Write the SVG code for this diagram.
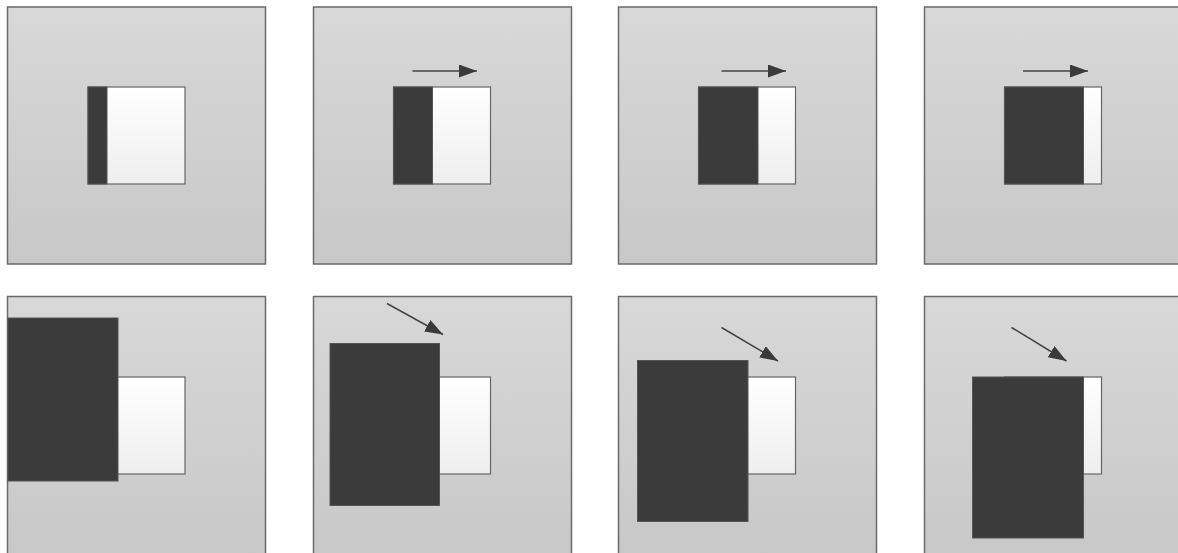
<svg xmlns="http://www.w3.org/2000/svg" width="1178" height="553" viewBox="0 0 1178 553">
<defs>
<linearGradient id="bg" x1="0" y1="0" x2="0" y2="1"><stop offset="0" stop-color="#d8d8d8"/><stop offset="1" stop-color="#c8c8c8"/></linearGradient>
<linearGradient id="wh" x1="0" y1="0" x2="0" y2="1"><stop offset="0" stop-color="#ffffff"/><stop offset="1" stop-color="#eeeeee"/></linearGradient>
<marker id="ah" markerUnits="userSpaceOnUse" markerWidth="20" markerHeight="14" refX="18" refY="6.5" orient="auto"><path d="M0,0 L18,6.5 L0,13 Z" fill="#3a3a3a"/></marker>
<style>
.panel{fill:url(#bg);stroke:#6a6a6a;stroke-width:1.5}
.white{fill:url(#wh);stroke:#666;stroke-width:1.2}
.dark{fill:#3b3b3b;stroke:#555;stroke-width:1}
.arrow{stroke:#444;stroke-width:1.5;fill:none;marker-end:url(#ah)}
</style>
</defs>
<rect width="1178" height="553" fill="#ffffff"/>
<g id="panel-1">
<rect class="panel" x="7.5" y="7" width="258" height="257"/>
<rect class="white" x="88" y="87" width="97" height="97"/>
<rect class="dark" x="88" y="87" width="19" height="97"/>
</g>
<g id="panel-2">
<rect class="panel" x="313.5" y="7" width="258" height="257"/>
<rect class="white" x="393.5" y="87" width="97" height="97"/>
<rect class="dark" x="393.5" y="87" width="39" height="97"/>
</g>
<g id="panel-3">
<rect class="panel" x="618.5" y="7" width="258" height="257"/>
<rect class="white" x="698.5" y="87" width="97" height="97"/>
<rect class="dark" x="698.5" y="87" width="59.5" height="97"/>
</g>
<g id="panel-4">
<rect class="panel" x="924.5" y="7" width="258" height="257"/>
<rect class="white" x="1004.5" y="87" width="97" height="97"/>
<rect class="dark" x="1004.5" y="87" width="79" height="97"/>
</g>
<g id="panel-5">
<rect class="panel" x="7.5" y="296.5" width="258" height="258"/>
<rect class="white" x="88" y="377" width="97" height="97"/>
<rect class="dark" x="8" y="318" width="110" height="163"/>
</g>
<g id="panel-6">
<rect class="panel" x="313.5" y="296.5" width="258" height="258"/>
<rect class="white" x="393.5" y="377" width="97" height="97"/>
<rect class="dark" x="330" y="343.5" width="109.5" height="162"/>
</g>
<g id="panel-7">
<rect class="panel" x="618.5" y="296.5" width="258" height="258"/>
<rect class="white" x="698.5" y="377" width="97" height="97"/>
<rect class="dark" x="637.5" y="360.5" width="110.5" height="161"/>
</g>
<g id="panel-8">
<rect class="panel" x="924.5" y="296.5" width="258" height="258"/>
<rect class="white" x="1004.5" y="377" width="97" height="97"/>
<rect class="dark" x="972.5" y="377" width="111" height="161"/>
</g>
<g id="connectors">
<line class="arrow" x1="412.5" y1="71" x2="477" y2="71"/>
<line class="arrow" x1="721.5" y1="71" x2="786" y2="71"/>
<line class="arrow" x1="1023" y1="71" x2="1088" y2="71"/>
<line class="arrow" x1="387" y1="303.5" x2="443" y2="334.5"/>
<line class="arrow" x1="721.5" y1="327.5" x2="778" y2="361"/>
<line class="arrow" x1="1011.5" y1="327.5" x2="1066.5" y2="361"/>
</g>
</svg>
